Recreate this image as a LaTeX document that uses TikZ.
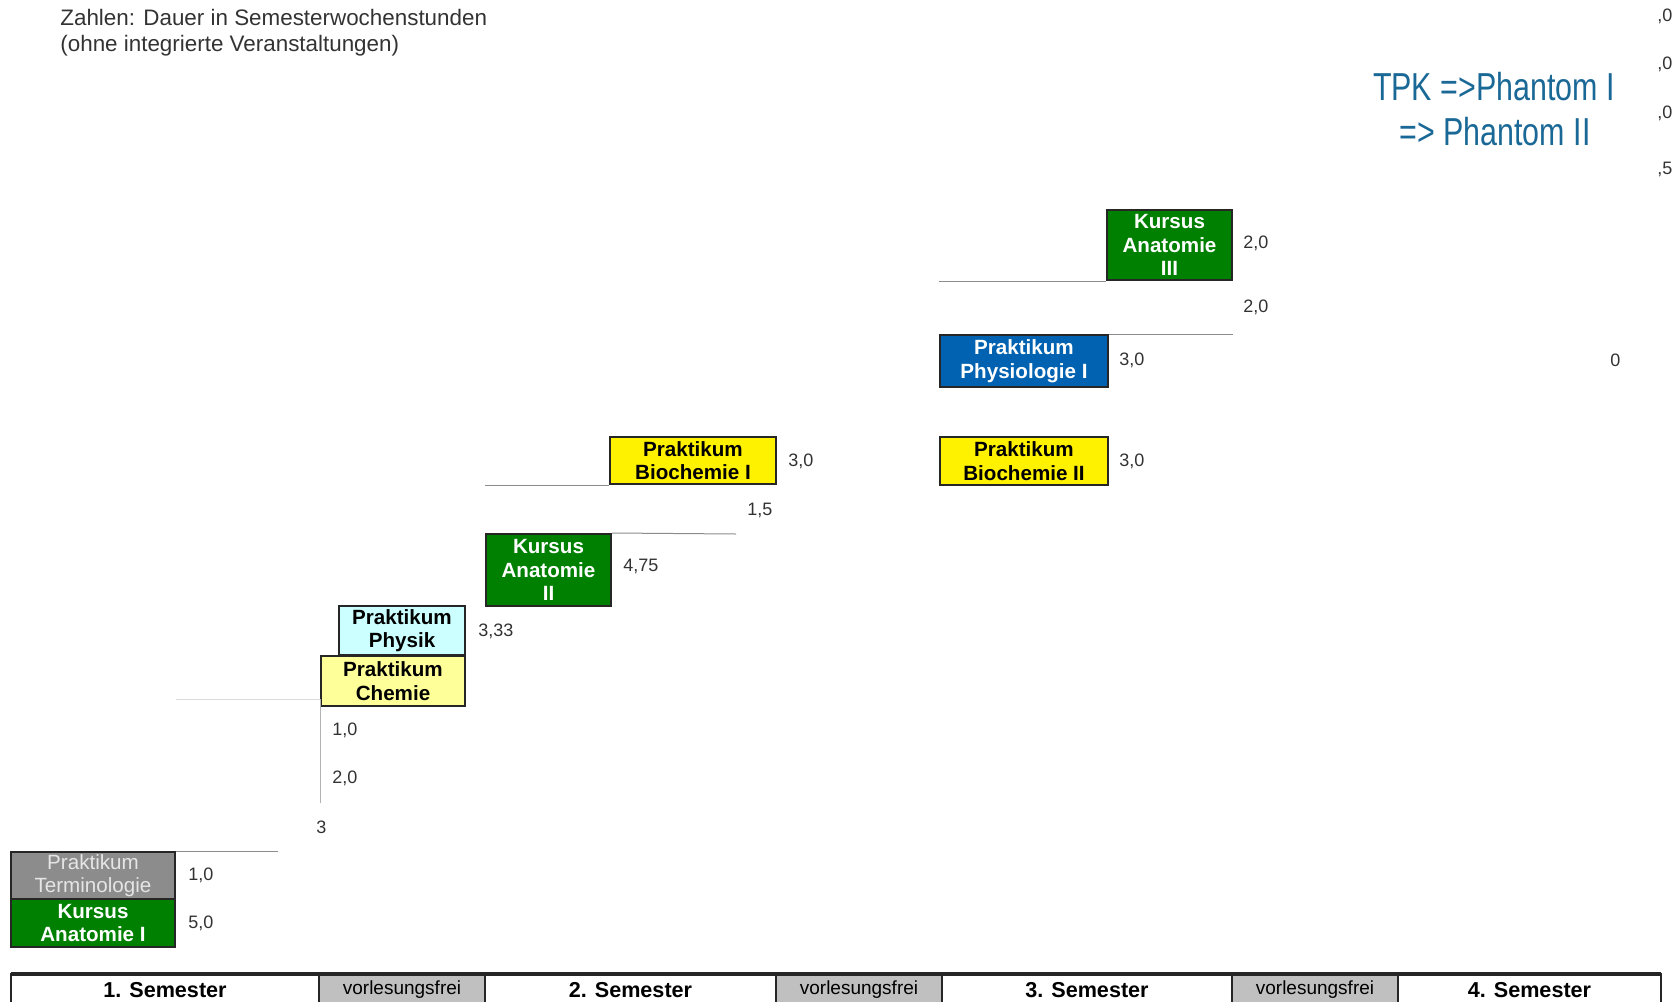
\documentclass[tikz,border=0pt]{standalone}
\usepackage{fontspec}
\setmainfont{Liberation Sans}
\newfontfamily\narrowfont[FakeStretch=0.78]{Liberation Sans}
\usetikzlibrary{positioning}

\definecolor{kursgreen}{RGB}{0,128,0}
\definecolor{physblue}{RGB}{0,98,176}
\definecolor{palecyan}{RGB}{204,255,255}
\definecolor{paleyellow}{RGB}{255,255,153}
\definecolor{termgray}{RGB}{140,140,140}
\definecolor{freigray}{RGB}{192,192,192}
\definecolor{tpkblue}{RGB}{26,104,150}
\definecolor{numgray}{RGB}{50,50,50}

\tikzset{
  fach/.style={draw=black!85,line width=1pt,inner sep=0pt,align=center,
    font=\bfseries\fontsize{10.3}{11.8}\selectfont},
  swsnum/.style={anchor=west,inner sep=0pt,text=numgray,font=\fontsize{9}{10}\selectfont},
  semcell/.style={draw=black!85,line width=1pt,inner sep=0pt,outer sep=0pt,
    minimum height=16pt,font=\bfseries\fontsize{10.8}{12}\selectfont},
  freicell/.style={semcell,fill=freigray,font=\fontsize{9.5}{11}\selectfont},
  trenn/.style={draw=black!45,line width=0.5pt}
}

\begin{document}
\begin{tikzpicture}[x=0.5pt,y=-0.5pt]
\useasboundingbox (0,0) rectangle (1678,1002);

\node[anchor=base west,inner sep=0pt,text=black!80,font=\fontsize{11.2}{13}\selectfont] (hinweisA) at (60,25) {Zahlen: Dauer in Semesterwochenstunden};
\node[anchor=base west,inner sep=0pt,text=black!80,font=\fontsize{11.2}{13}\selectfont] (hinweisB) at (60,51) {(ohne integrierte Veranstaltungen)};

\node[anchor=base,inner sep=0pt,text=tpkblue,font=\narrowfont\fontsize{19.5}{22.5}\selectfont] (tpkA) at (1494,100) {TPK =>Phantom I};
\node[anchor=base,inner sep=0pt,text=tpkblue,font=\narrowfont\fontsize{19.5}{22.5}\selectfont] (tpkB) at (1495,145) {=> Phantom II};

% 1. Semester
\node[fach,fill=termgray,text=black!10,font=\fontsize{10.3}{11.8}\selectfont,minimum width=82pt,minimum height=23.5pt] (term) at (93,875.5) {Praktikum\\Terminologie};
\node[fach,fill=kursgreen,text=white,minimum width=82pt,minimum height=24pt] (anaI) at (93,923) {Kursus\\Anatomie I};
\node[fach,fill=palecyan,minimum width=63pt,minimum height=24.5pt] (physik) at (402,630.5) {Praktikum\\Physik};
\node[fach,fill=paleyellow,minimum width=72pt,minimum height=25pt] (chemie) at (393,681) {Praktikum\\Chemie};
% 2. Semester
\node[fach,fill=kursgreen,text=white,minimum width=62.5pt,minimum height=36pt] (anaII) at (548.5,570) {Kursus\\Anatomie\\II};
\node[fach,fill=yellow,minimum width=83pt,minimum height=23.5pt] (bioI) at (693,460.5) {Praktikum\\Biochemie I};
% 3. Semester
\node[fach,fill=kursgreen,text=white,minimum width=62.5pt,minimum height=35pt] (anaIII) at (1169.5,245) {Kursus\\Anatomie\\III};
\node[fach,fill=physblue,text=white,minimum width=84pt,minimum height=26pt] (physio) at (1024,361) {Praktikum\\Physiologie I};
\node[fach,fill=yellow,minimum width=84pt,minimum height=24pt] (bioII) at (1024,461) {Praktikum\\Biochemie II};

\node[swsnum] (nTerm) at (188,875) {1,0};
\node[swsnum] (nAnaI) at (188,923) {5,0};
\node[swsnum] (nLinksA) at (332,730) {1,0};
\node[swsnum] (nLinksB) at (332,778) {2,0};
\node[swsnum] (nLinksC) at (316,827) {3};
\node[swsnum] (nPhysik) at (478,631) {3,33};
\node[swsnum] (nAnaII) at (623,566) {4,75};
\node[swsnum] (nZwischen) at (747,510) {1,5};
\node[swsnum] (nBioI) at (788,461) {3,0};
\node[swsnum] (nAnaIII) at (1243,243) {2,0};
\node[swsnum] (nMitte) at (1243,307) {2,0};
\node[swsnum] (nPhysio) at (1119,360) {3,0};
\node[swsnum] (nBioII) at (1119,461) {3,0};
\node[swsnum] (nRandA) at (1657,16) {,0};
\node[swsnum] (nRandB) at (1657,64) {,0};
\node[swsnum] (nRandC) at (1657,113) {,0};
\node[swsnum] (nRandD) at (1657,169) {,5};
\node[swsnum] (nRandE) at (1610,360) {0};

\coordinate (eckeA) at (320,699);
\coordinate (eckeB) at (320,803);
\coordinate (termEnde) at (278,851);
\coordinate (anaIIEnde) at (736,534);
\draw[trenn,black!15] (term.east |- eckeA) -- (eckeA);
\draw[trenn,black!30] (eckeA) -- (eckeB);
\draw[trenn] (term.north east) -- (termEnde);
\draw[trenn] (bioI.south west) -- (anaII.west |- bioI.south);
\draw[trenn] (anaII.north east) -- (anaIIEnde);
\draw[trenn] (anaIII.south west) -- (physio.west |- anaIII.south);
\draw[trenn] (physio.north east) -- (anaIII.east |- physio.north);

% Zeitleiste
\node[semcell,minimum width=154pt,anchor=north west] (sem1) at (11,974) {1. Semester};
\node[freicell,minimum width=83pt,right=0pt of sem1] (frei1) {vorlesungsfrei};
\node[semcell,minimum width=145.5pt,right=0pt of frei1] (sem2) {2. Semester};
\node[freicell,minimum width=83pt,right=0pt of sem2] (frei2) {vorlesungsfrei};
\node[semcell,minimum width=145pt,right=0pt of frei2] (sem3) {3. Semester};
\node[freicell,minimum width=83pt,right=0pt of sem3] (frei3) {vorlesungsfrei};
\node[semcell,minimum width=131.5pt,right=0pt of frei3] (sem4) {4. Semester};
\draw[line width=1.6pt,black!85] (sem1.north west) -- (sem4.north east);
\end{tikzpicture}
\end{document}
